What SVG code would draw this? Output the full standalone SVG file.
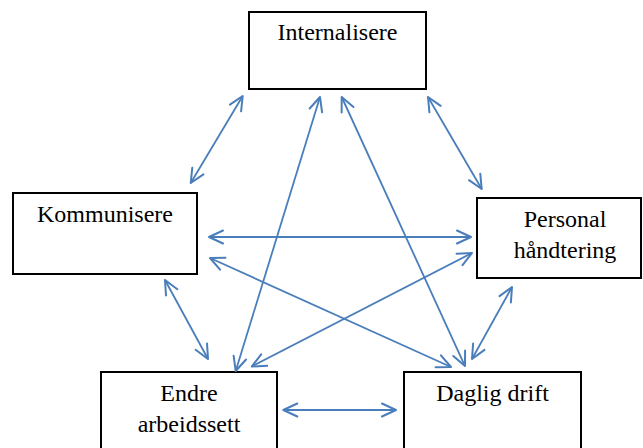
<svg xmlns="http://www.w3.org/2000/svg" width="643" height="448" viewBox="0 0 643 448">
<style>
.box{fill:#fff;stroke:#000;stroke-width:2}
.lbl{font-family:"Liberation Serif","Times New Roman",serif;font-size:24px;fill:#000;text-anchor:middle}
.con line{stroke:#4a7ebb;stroke-width:1.8;fill:none;marker-start:url(#ah);marker-end:url(#ah)}
</style>
<defs>
<marker id="ah" viewBox="-17 -10 20 20" markerWidth="20" markerHeight="20" refX="0" refY="0" orient="auto-start-reverse" markerUnits="userSpaceOnUse">
<path d="M-14,-6.5 L0,0 L-14,6.5" fill="none" stroke="#4a7ebb" stroke-width="2" stroke-linecap="round" stroke-linejoin="round"/>
</marker>
</defs>
<rect width="643" height="448" fill="#fff"/>
<g id="internalisere"><rect class="box" x="249" y="12" width="177" height="77"/><text class="lbl" x="337.5" y="40">Internalisere</text></g>
<g id="kommunisere"><rect class="box" x="13" y="193" width="184" height="81"/><text class="lbl" x="105" y="222">Kommunisere</text></g>
<g id="personal"><rect class="box" x="477" y="198" width="164" height="80"/><text class="lbl" x="565" y="227">Personal</text><text class="lbl" x="565" y="258">håndtering</text></g>
<g id="endre"><rect class="box" x="101" y="372" width="176" height="90"/><text class="lbl" x="189" y="401">Endre</text><text class="lbl" x="189" y="432">arbeidssett</text></g>
<g id="daglig"><rect class="box" x="404" y="372" width="177" height="90"/><text class="lbl" x="492.5" y="401">Daglig drift</text></g>
<g class="con" id="connectors">
<line x1="242.7" y1="96" x2="190.7" y2="183"/>
<line x1="320" y1="97" x2="235.7" y2="371"/>
<line x1="341.7" y1="97" x2="465" y2="366"/>
<line x1="428" y1="97" x2="481.7" y2="189"/>
<line x1="209" y1="237" x2="471" y2="237"/>
<line x1="210" y1="258" x2="451" y2="367"/>
<line x1="165" y1="280" x2="208" y2="359"/>
<line x1="472" y1="253" x2="251.7" y2="366.5"/>
<line x1="512" y1="287" x2="472" y2="359"/>
<line x1="283.3" y1="410" x2="396" y2="410"/>
</g>
</svg>
